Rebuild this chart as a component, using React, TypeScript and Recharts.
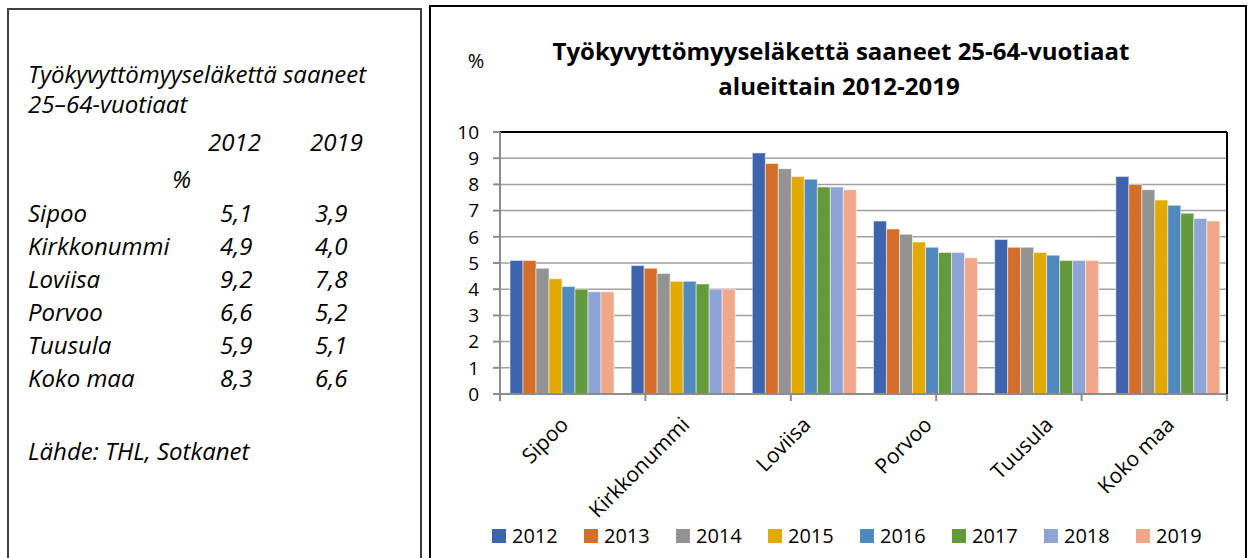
import React from 'react';
import { BarChart, Bar, XAxis, YAxis, CartesianGrid, Legend } from 'recharts';

// alueet ja vuodet
const regions = ['Sipoo', 'Kirkkonummi', 'Loviisa', 'Porvoo', 'Tuusula', 'Koko maa'];
const years = ['2012', '2013', '2014', '2015', '2016', '2017', '2018', '2019'];

// työkyvyttömyyseläkettä saaneet, % 25-64-vuotiaista
const v2012 = [5.1, 4.9, 9.2, 6.6, 5.9, 8.3];
const v2013 = [5.1, 4.8, 8.8, 6.3, 5.6, 8.0];
const v2014 = [4.8, 4.6, 8.6, 6.1, 5.6, 7.8];
const v2015 = [4.4, 4.3, 8.3, 5.8, 5.4, 7.4];
const v2016 = [4.1, 4.3, 8.2, 5.6, 5.3, 7.2];
const v2017 = [4.0, 4.2, 7.9, 5.4, 5.1, 6.9];
const v2018 = [3.9, 4.0, 7.9, 5.4, 5.1, 6.7];
const v2019 = [3.9, 4.0, 7.8, 5.2, 5.1, 6.6];

const yearColors = ['#3d64ad', '#d36f2b', '#939393', '#e2aa00', '#4f89be', '#639a3c', '#8fa4d6', '#f0a78a'];
const yTicks = [0, 1, 2, 3, 4, 5, 6, 7, 8, 9, 10];
const boundaryTicks = [0, 1, 2, 3, 4, 5, 6];

const series = [v2012, v2013, v2014, v2015, v2016, v2017, v2018, v2019];

const chartData = regions.map((name, i) => {
    const row: Record<string, string | number> = { name };
    years.forEach((y, j) => {
        row[y] = series[j][i];
    });
    return row;
});

const fi = (v: number) => v.toFixed(1).replace('.', ',');

const FONT = '"Open Sans", sans-serif';

function RegionTick(props: any) {
    const { x, y, payload } = props;
    const ax = x + 9;
    const ay = y + 16;
    return (
        <text
            x={ax}
            y={ay}
            transform={`rotate(-45, ${ax}, ${ay})`}
            textAnchor="end"
            fontSize={21}
            fontFamily={FONT}
            fill="#000"
        >
            {payload.value}
        </text>
    );
}

function YearLegend(props: any) {
    const { payload } = props;
    return (
        <div
            style={{
                display: 'flex',
                alignItems: 'center',
                height: 40,
                paddingLeft: 62,
                paddingBottom: 5,
                boxSizing: 'border-box',
                fontFamily: FONT,
                fontSize: 20,
                color: '#000',
            }}
        >
            {(payload || []).map((entry: any) => (
                <div key={entry.value} style={{ display: 'flex', alignItems: 'center', width: 92.5 }}>
                    <span style={{ width: 14, height: 14, background: entry.color, marginRight: 6 }} />
                    <span>{entry.value}</span>
                </div>
            ))}
        </div>
    );
}

export default function App() {
    const rowBaselines = [222, 255, 288, 321, 354, 387];
    return (
        <div
            style={{
                position: 'absolute',
                left: 0,
                top: 0,
                width: 1248,
                height: 558,
                overflow: 'hidden',
                background: '#fff',
            }}
        >
            {/* vasen taulukko */}
            <div
                style={{
                    position: 'absolute',
                    left: 7,
                    top: 8,
                    width: 411,
                    height: 560,
                    border: '2px solid #404040',
                }}
            />
            <svg
                width={1248}
                height={558}
                style={{ position: 'absolute', left: 0, top: 0 }}
                fontFamily={FONT}
                fontStyle="italic"
                fontSize={24}
            >
                <text x={28} y={83}>Työkyvyttömyyseläkettä saaneet</text>
                <text x={28} y={113}>25–64-vuotiaat</text>
                <text x={208} y={151}>2012</text>
                <text x={310} y={151}>2019</text>
                <text x={172} y={188}>%</text>
                {regions.map((r, i) => (
                    <g key={r}>
                        <text x={28} y={rowBaselines[i]}>{r}</text>
                        <text x={220} y={rowBaselines[i]}>{fi(v2012[i])}</text>
                        <text x={315} y={rowBaselines[i]}>{fi(v2019[i])}</text>
                    </g>
                ))}
                <text x={28} y={460}>Lähde: THL, Sotkanet</text>
            </svg>

            {/* oikea kaavio */}
            <div
                style={{
                    position: 'absolute',
                    left: 429,
                    top: 5,
                    width: 814,
                    height: 560,
                    border: '2px solid #000',
                }}
            />
            <div style={{ position: 'absolute', left: 430, top: 0 }}>
                <BarChart
                    width={818}
                    height={558}
                    data={chartData}
                    margin={{ top: 131, right: 20, left: 0, bottom: 0 }}
                    barCategoryGap={10}
                    barGap={0}
                >
                    <CartesianGrid vertical={false} stroke="#a0a0a0" strokeWidth={1.5} />
                    <XAxis
                        xAxisId="bounds"
                        type="number"
                        domain={[0, 6]}
                        ticks={boundaryTicks}
                        allowDataOverflow
                        height={8}
                        stroke="#8c8c8c"
                        strokeWidth={2}
                        tickSize={7}
                        tickFormatter={() => ''}
                    />
                    <XAxis
                        xAxisId="cat"
                        dataKey="name"
                        height={116}
                        axisLine={false}
                        tickLine={false}
                        interval={0}
                        tick={<RegionTick />}
                    />
                    <XAxis xAxisId="top" dataKey="name" orientation="top" height={1} tick={false} tickLine={false} stroke="#000" strokeWidth={2} />
                    <YAxis
                        width={70}
                        domain={[0, 10]}
                        ticks={yTicks}
                        interval={0}
                        stroke="#8c8c8c"
                        strokeWidth={2}
                        tickSize={7}
                        tickMargin={14}
                        tick={{ fill: '#000', fontSize: 19, fontFamily: FONT }}
                    />
                    <YAxis yAxisId="r" orientation="right" width={1} domain={[0, 10]} tick={false} tickLine={false} stroke="#000" strokeWidth={2} />
                    <Legend verticalAlign="bottom" height={40} content={<YearLegend />} />
                    {years.map((y, j) => (
                        <Bar
                            key={y}
                            xAxisId="cat"
                            dataKey={y}
                            name={y}
                            fill={yearColors[j]}
                            stroke="#ffffff"
                            strokeOpacity={0.5}
                            strokeWidth={1}
                            isAnimationActive={false}
                        />
                    ))}
                </BarChart>
            </div>

            {/* otsikko */}
            <svg width={1248} height={120} style={{ position: 'absolute', left: 0, top: 0 }} fontFamily={FONT}>
                <text x={476} y={68} fontSize={20} textAnchor="middle">%</text>
                <text x={841} y={60} fontSize={24} fontWeight="bold" textAnchor="middle">
                    Työkyvyttömyyseläkettä saaneet 25-64-vuotiaat
                </text>
                <text x={839} y={95} fontSize={24} fontWeight="bold" textAnchor="middle">
                    alueittain 2012-2019
                </text>
            </svg>
        </div>
    );
}
